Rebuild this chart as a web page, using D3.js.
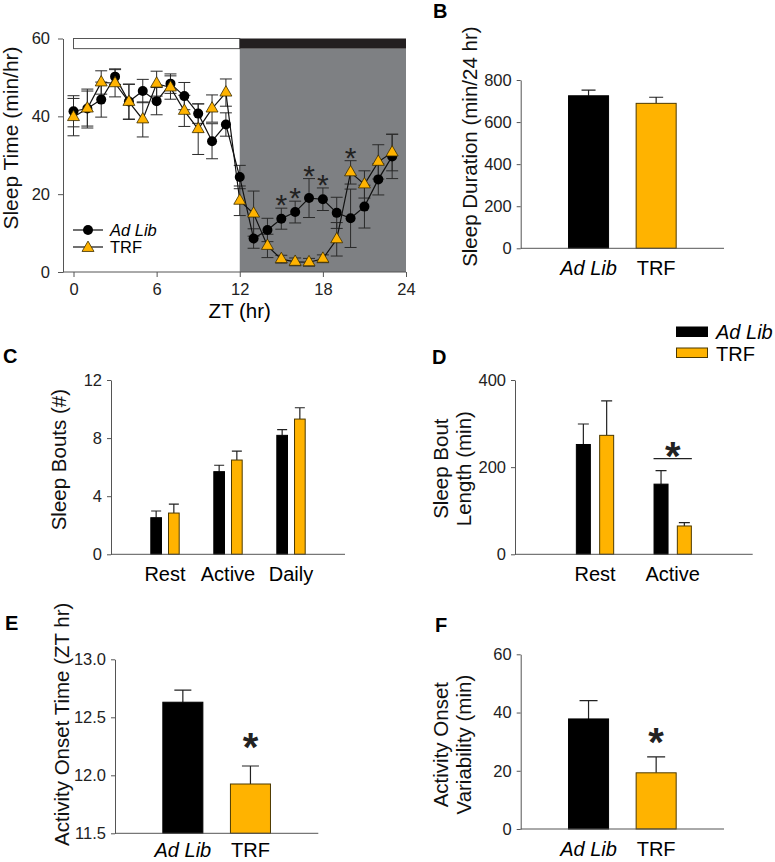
<!DOCTYPE html>
<html>
<head>
<meta charset="utf-8">
<script src="https://cdn.jsdelivr.net/npm/d3@7"></script>
<style>
body { margin: 0; background: #fff; }
svg { display: block; font-family: "Liberation Sans", Arial, sans-serif; }
.tick text { font-size: 16.5px; fill: #222; }
.domain, .tick line { stroke: #555; }
</style>
</head>
<body>
<svg width="775" height="862"></svg>
<script>
// ---- panel A: hourly sleep
const zt = [0,1,2,3,4,5,6,7,8,9,10,11,12,13,14,15,16,17,18,19,20,21,22,23]
const adLibSleep = [41.3,42.0,44.3,50.2,43.8,46.5,43.9,48.4,45.2,40.7,33.6,37.9,24.4,8.6,10.8,13.7,15.4,19.0,18.7,15.2,13.8,16.8,23.8,29.7]
const adLibSleepSem = [4.0,4.5,4.5,2.0,4.5,3.0,3.5,2.5,3.5,2.5,4.5,3.0,3.0,2.5,3.0,2.7,2.8,5.0,2.9,4.0,7.5,5.5,4.0,5.7]
const trfSleep = [39.8,42.0,48.7,48.5,43.7,39.2,48.4,47.4,41.4,36.7,42.0,46.1,18.3,15.0,6.7,3.3,2.6,2.5,3.4,8.4,25.6,22.5,28.3,30.7]
const trfSleepSem = [4.8,5.0,3.0,3.5,4.5,4.5,3.2,3.0,4.0,6.5,3.5,3.5,3.8,5.8,3.0,1.0,1.0,1.0,1.0,4.3,3.0,3.5,4.4,4.7]
const sigHours = [15,16,17,18,20]
const lightPhase = [0, 12]
const darkPhase = [12, 24]
const ztTicks = [0, 6, 12, 18, 24]
const sleepTicks = [0, 20, 40, 60]

// ---- panels B-F
const groups = ['Ad Lib', 'TRF']
const durationMean = [725, 689]
const durationSem = [27, 29]
const boutPhases = ['Rest', 'Active', 'Daily']
const boutsAdLib = [2.52, 5.69, 8.19]
const boutsAdLibSem = [0.46, 0.44, 0.39]
const boutsTrf = [2.84, 6.49, 9.31]
const boutsTrfSem = [0.62, 0.62, 0.78]
const lengthPhases = ['Rest', 'Active']
const lengthAdLib = [252, 161]
const lengthAdLibSem = [47, 31]
const lengthTrf = [273, 65]
const lengthTrfSem = [79, 7.5]
const lengthSig = ['Active']
const onsetMean = [12.63, 11.925]
const onsetSem = [0.105, 0.155]
const variabilityMean = [37.8, 19.3]
const variabilitySem = [6.3, 5.5]

const fill = {'Ad Lib': '#000', 'TRF': '#ffb300'}
const edge = {'Ad Lib': '#000', 'TRF': '#4d3a00'}

let svg = d3.select('svg')

let letter = (t, x, y) => svg.append('text').attr('x', x).attr('y', y)
    .style('font-size', '20px').style('font-weight', 'bold').text(t)

let yLabel = (lines, x, y, size) => {
    let t = svg.append('text')
        .attr('transform', `translate(${x},${y}) rotate(-90)`)
        .attr('text-anchor', 'middle')
        .style('font-size', (size || 20.5) + 'px')
        .style('fill', '#111')
    lines.forEach((l, i) => {
        t.append('tspan').attr('x', 0).attr('dy', i ? 23 : -(lines.length - 1) * 23).text(l)
    })
}

// ================= A =================
let xA = d3.scaleLinear().domain([0, 24]).range([73.5, 406])
let yA = d3.scaleLinear().domain([0, 60]).range([272, 38.5])
let barBase = 57.4

svg.append('rect')
    .attr('x', xA(darkPhase[0])).attr('width', xA(darkPhase[1]) - xA(darkPhase[0]))
    .attr('y', yA(barBase)).attr('height', yA(0) - yA(barBase))
    .attr('fill', '#7e8083')
svg.append('rect')
    .attr('x', xA(lightPhase[0])).attr('width', xA(lightPhase[1]) - xA(lightPhase[0]))
    .attr('y', yA(60)).attr('height', yA(barBase) - yA(60))
    .attr('fill', '#fff').attr('stroke', '#555').attr('stroke-width', 1)
svg.append('rect')
    .attr('x', xA(darkPhase[0])).attr('width', xA(darkPhase[1]) - xA(darkPhase[0]))
    .attr('y', yA(60)).attr('height', yA(barBase) - yA(60))
    .attr('fill', '#231f20')

svg.append('g').attr('transform', 'translate(63,0)')
    .call(d3.axisLeft(yA).tickValues(sleepTicks).tickSize(5).tickPadding(8).tickSizeOuter(0))
svg.append('g').attr('transform', `translate(0,${yA(0)})`)
    .call(d3.axisBottom(xA).tickValues(ztTicks).tickSize(5).tickPadding(6).tickSizeOuter(0))
    .call(g => g.select('.domain').remove())
svg.append('line').attr('x1', 63).attr('x2', xA(24)).attr('y1', yA(0)).attr('y2', yA(0))
    .attr('stroke', '#555')

let seriesA = [
    {name: 'Ad Lib', mean: adLibSleep, sem: adLibSleepSem},
    {name: 'TRF', mean: trfSleep, sem: trfSleepSem}
]

seriesA.forEach(s => {
    svg.append('g').selectAll('path')
        .data(zt)
        .enter().append('path')
        .attr('d', i => {
            let cx = xA(zt[i]), t = yA(s.mean[i] + s.sem[i]), b = yA(s.mean[i] - s.sem[i])
            return `M${cx},${t}V${b}M${cx - 6},${t}h12M${cx - 6},${b}h12`
        })
        .attr('stroke', '#2a2a2a').attr('stroke-width', 1).attr('fill', 'none')
})

let lineA = d3.line()
seriesA.forEach(s => {
    svg.append('path')
        .attr('d', lineA(zt.map(i => [xA(zt[i]), yA(s.mean[i])])))
        .attr('fill', 'none').attr('stroke', '#111').attr('stroke-width', 1.2)
})

svg.append('g').selectAll('circle')
    .data(zt)
    .enter().append('circle')
    .attr('cx', i => xA(zt[i])).attr('cy', i => yA(adLibSleep[i]))
    .attr('r', 5).attr('fill', '#000')

let tri = d3.symbol().type(d3.symbolTriangle).size(62)
svg.append('g').selectAll('path')
    .data(zt)
    .enter().append('path')
    .attr('d', tri)
    .attr('transform', i => `translate(${xA(zt[i])},${yA(trfSleep[i])})`)
    .attr('fill', '#ffb300').attr('stroke', '#3a2c00').attr('stroke-width', 0.8)

svg.append('g').selectAll('text')
    .data(sigHours)
    .enter().append('text')
    .attr('x', h => xA(h)).attr('text-anchor', 'middle')
    .attr('y', h => {
        let top = Math.max(adLibSleep[h] + adLibSleepSem[h], trfSleep[h] + trfSleepSem[h])
        return yA(top) - 10 + 0.575 * 30
    })
    .style('font-size', '30px').style('fill', '#222')
    .text('*')

// legend A
let legA = svg.append('g')
legA.selectAll('line').data(groups).enter().append('line')
    .attr('x1', 73).attr('x2', 103)
    .attr('y1', (d, i) => 230 + i * 17).attr('y2', (d, i) => 230 + i * 17)
    .attr('stroke', '#111').attr('stroke-width', 1.2)
legA.append('circle').attr('cx', 88).attr('cy', 230).attr('r', 5).attr('fill', '#000')
legA.append('path').attr('d', tri).attr('transform', 'translate(88,248)')
    .attr('fill', '#ffb300').attr('stroke', '#3a2c00').attr('stroke-width', 0.8)
legA.selectAll('text').data(groups).enter().append('text')
    .attr('x', 110).attr('y', (d, i) => 236 + i * 17)
    .style('font-size', '16.5px').style('font-style', d => d === 'Ad Lib' ? 'italic' : null)
    .text(d => d)

yLabel(['Sleep Time (min/hr)'], 18, 138, 21)
svg.append('text').attr('x', xA(12)).attr('y', 318).attr('text-anchor', 'middle')
    .style('font-size', '20.5px').text('ZT (hr)')

// ================= bar panels =================
let barPanel = p => {
    let g = svg.append('g')
    let x = d3.scaleBand().domain(p.cats).range([p.left, p.right])
        .paddingInner(p.pad[0]).paddingOuter(p.pad[1])
    let xi = p.inner ? d3.scaleBand().domain(groups).range([0, x.bandwidth()])
        .paddingInner(p.inner[0]).paddingOuter(p.inner[1]) : null
    let bx = d => xi ? x(d.cat) + xi(d.grp) : x(d.grp)
    let bw = xi ? xi.bandwidth() : x.bandwidth()
    let y = d3.scaleLinear().domain(p.domain).range([p.bottom, p.top])

    g.selectAll('.err').data(p.rows).enter().append('path')
        .attr('d', d => {
            let cx = bx(d) + bw / 2, t = y(d.mean + d.sem)
            return `M${cx},${y(d.mean)}V${t}M${cx - p.cap / 2},${t}h${p.cap}`
        })
        .attr('stroke', '#222').attr('stroke-width', 1.2).attr('fill', 'none')

    g.selectAll('.bar').data(p.rows).enter().append('rect')
        .attr('x', d => bx(d) + 0.5).attr('width', bw - 1)
        .attr('y', d => y(d.mean)).attr('height', d => y(p.domain[0]) - y(d.mean))
        .attr('fill', d => fill[d.grp]).attr('stroke', d => edge[d.grp]).attr('stroke-width', 1)

    g.append('g').attr('transform', `translate(${p.left},0)`)
        .call(d3.axisLeft(y).tickValues(p.ticks).tickFormat(p.fmt || d3.format('d'))
            .tickSize(4).tickPadding(5).tickSizeOuter(0))
    g.append('line').attr('x1', p.left).attr('x2', p.right)
        .attr('y1', p.bottom).attr('y2', p.bottom).attr('stroke', '#555')

    g.selectAll('.cat').data(p.cats).enter().append('text')
        .attr('x', d => x(d) + x.bandwidth() / 2).attr('y', p.bottom + (p.catGap || 27))
        .attr('text-anchor', 'middle')
        .style('font-size', '20px').style('font-style', d => d === 'Ad Lib' ? 'italic' : null)
        .text(d => d)

    yLabel(p.label, p.labelX, (p.top + p.bottom) / 2 + p.labelShift)
    return {x, y, bx, bw, g}
}

let star = (g, cx, cy) => g.append('text')
    .attr('x', cx).attr('y', cy + 0.575 * 40).attr('text-anchor', 'middle')
    .style('font-size', '40px').style('font-weight', 'bold').style('fill', '#222')
    .text('*')

// B
letter('B', 433, 18)
barPanel({
    cats: groups, rows: groups.map((g, i) => ({grp: g, mean: durationMean[i], sem: durationSem[i]})),
    left: 520.7, right: 724, top: 80, bottom: 248.3, pad: [0.393, 0.7],
    domain: [0, 800], ticks: [0, 200, 400, 600, 800], cap: 14,
    label: ['Sleep Duration (min/24 hr)'], labelX: 477, labelShift: -17.5
})

// C
letter('C', 3, 363)
barPanel({
    cats: boutPhases,
    rows: boutPhases.flatMap((c, i) => [
        {cat: c, grp: 'Ad Lib', mean: boutsAdLib[i], sem: boutsAdLibSem[i]},
        {cat: c, grp: 'TRF', mean: boutsTrf[i], sem: boutsTrfSem[i]}
    ]),
    left: 111, right: 345, top: 380, bottom: 554.3, pad: [0.4, 0.557], inner: [0.34, 0.238],
    domain: [0, 12], ticks: [0, 4, 8, 12], cap: 10,
    label: ['Sleep Bouts (#)'], labelX: 65.5, labelShift: -7.5
})

// D
letter('D', 432, 364)
let pD = barPanel({
    cats: lengthPhases,
    rows: lengthPhases.flatMap((c, i) => [
        {cat: c, grp: 'Ad Lib', mean: lengthAdLib[i], sem: lengthAdLibSem[i]},
        {cat: c, grp: 'TRF', mean: lengthTrf[i], sem: lengthTrfSem[i]}
    ]),
    left: 515, right: 752.7, top: 380, bottom: 554.3, pad: [0.4, 0.73], inner: [0.356, 0.178],
    domain: [0, 400], ticks: [0, 200, 400], cap: 11,
    label: ['Sleep Bout', 'Length (min)'], labelX: 471, labelShift: 1.5
})
lengthSig.forEach(c => {
    let i = lengthPhases.indexOf(c)
    let top = Math.max(lengthAdLib[i] + lengthAdLibSem[i], lengthTrf[i] + lengthTrfSem[i])
    let ly = pD.y(top) - 12
    let x1 = pD.bx({cat: c, grp: 'Ad Lib'}), x2 = pD.bx({cat: c, grp: 'TRF'}) + pD.bw
    pD.g.append('line').attr('x1', x1).attr('x2', x2).attr('y1', ly).attr('y2', ly)
        .attr('stroke', '#222').attr('stroke-width', 1.2)
    star(pD.g, (x1 + x2) / 2, ly - 12)
})

// legend D
let legD = svg.append('g')
legD.selectAll('rect').data(groups).enter().append('rect')
    .attr('x', 676.5).attr('width', 31).attr('y', (d, i) => 327 + i * 21).attr('height', 9.5)
    .attr('fill', d => fill[d]).attr('stroke', d => edge[d])
legD.selectAll('text').data(groups).enter().append('text')
    .attr('x', 716).attr('y', (d, i) => 339 + i * 22)
    .style('font-size', '20px').style('font-style', d => d === 'Ad Lib' ? 'italic' : null)
    .text(d => d)

// E
letter('E', 5, 630)
let pE = barPanel({
    cats: groups, rows: groups.map((g, i) => ({grp: g, mean: onsetMean[i], sem: onsetSem[i]})),
    left: 115, right: 318.3, top: 659.3, bottom: 833.3, pad: [0.393, 0.7],
    domain: [11.5, 13], ticks: [11.5, 12, 12.5, 13], fmt: d3.format('.1f'), cap: 17,
    label: ['Activity Onset Time (ZT hr)'], labelX: 69, labelShift: -22, catGap: 24
})
star(pE.g, pE.bx({grp: 'TRF'}) + pE.bw / 2, pE.y(onsetMean[1] + onsetSem[1]) - 28)

// F
letter('F', 435, 632)
let pF = barPanel({
    cats: groups, rows: groups.map((g, i) => ({grp: g, mean: variabilityMean[i], sem: variabilitySem[i]})),
    left: 520.7, right: 724, top: 654.3, bottom: 829, pad: [0.393, 0.7],
    domain: [0, 60], ticks: [0, 20, 40, 60], cap: 18,
    label: ['Activity Onset', 'Variability (min)'], labelX: 471, labelShift: 3, catGap: 27
})
star(pF.g, pF.bx({grp: 'TRF'}) + pF.bw / 2, pF.y(variabilityMean[1] + variabilitySem[1]) - 24)
</script>
</body>
</html>
